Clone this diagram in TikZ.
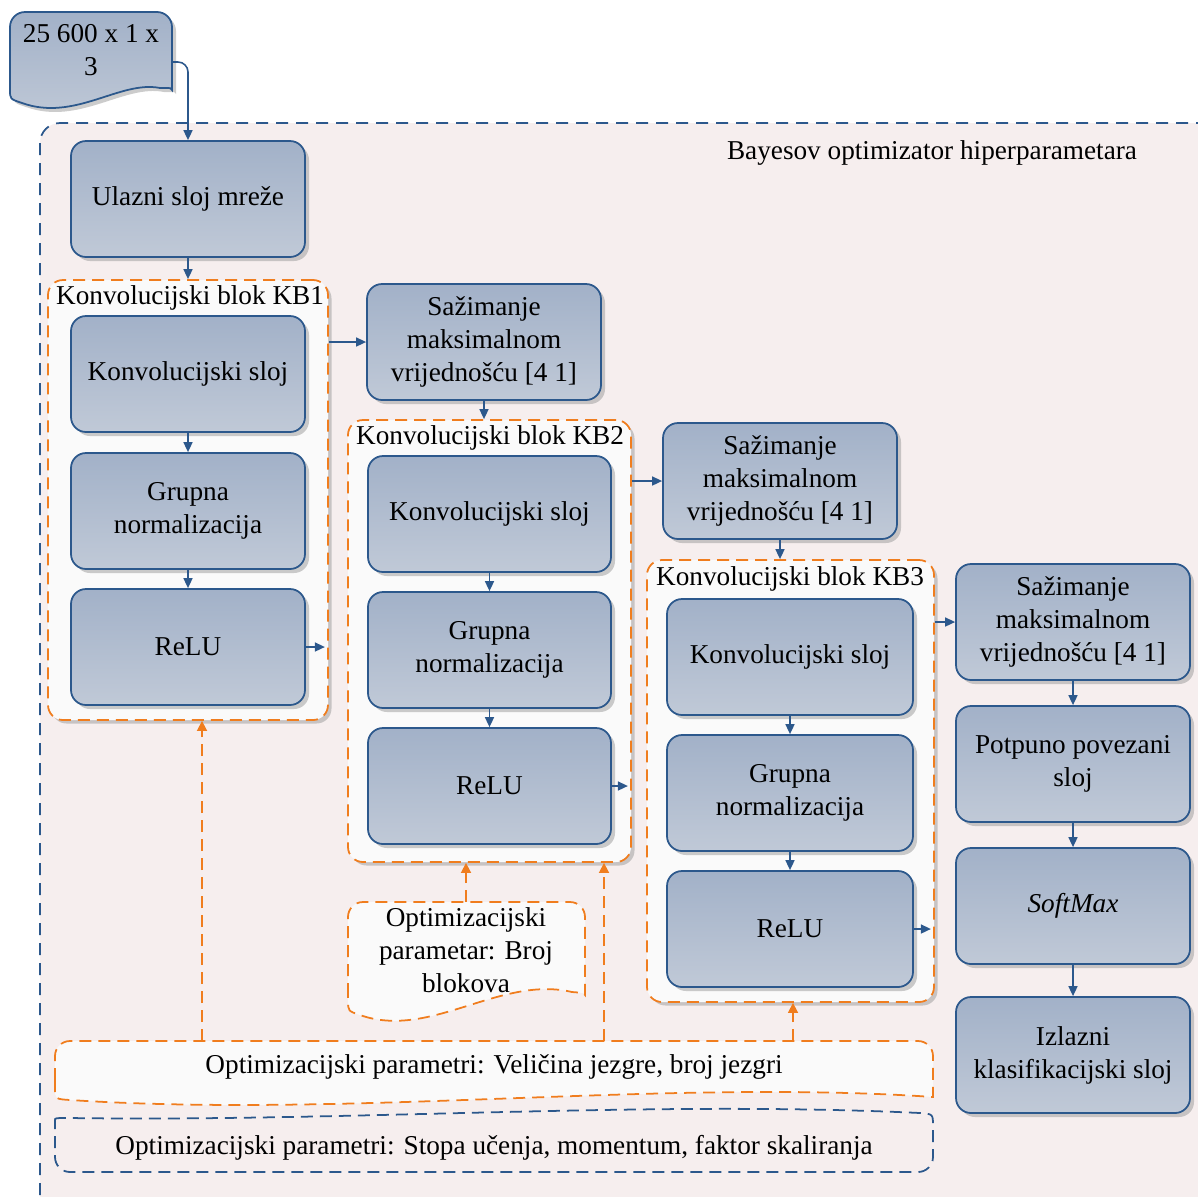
\documentclass[tikz,border=0pt]{standalone}
\usepackage{fontspec}
\setmainfont{Liberation Serif}
\usetikzlibrary{arrows.meta, positioning, shadows, calc}
\definecolor{plava}{RGB}{44,88,140}
\definecolor{narancasta}{RGB}{240,125,30}
\definecolor{slojgore}{RGB}{162,177,200}
\definecolor{slojdolje}{RGB}{192,201,215}
\definecolor{pozadina}{RGB}{246,238,238}
\definecolor{blokbg}{RGB}{250,250,250}
\tikzset{
    sloj/.style    = {draw=plava, line width=1pt, rounded corners=3mm,
                      top color=slojgore, bottom color=slojdolje,
                      drop shadow={shadow xshift=0.8mm, shadow yshift=-0.8mm, fill=black!40, opacity=0.5},
                      minimum width=46.8mm, minimum height=23.2mm, align=center, inner sep=2pt},
    blok/.style    = {draw=narancasta, line width=1pt, dash pattern=on 2.4mm off 1.4mm,
                      rounded corners=3mm, fill=blokbg,
                      drop shadow={shadow xshift=0.7mm, shadow yshift=-0.7mm, fill=black!40, opacity=0.5}},
    natpis/.style  = {anchor=west, inner sep=1pt},
    strel/.style   = {-{Triangle[length=2mm, width=1.8mm]}, plava, line width=0.9pt},
    optstrel/.style= {-{Triangle[length=2mm, width=2mm]}, narancasta, line width=0.9pt,
                      dash pattern=on 2.4mm off 1.4mm},
    okvir/.style   = {draw=plava, line width=1pt, dash pattern=on 2.4mm off 1.6mm,
                      rounded corners=4mm, fill=pozadina},
    ulazdok/.style = {draw=plava, line width=1pt, top color=slojgore, bottom color=slojdolje,
                      drop shadow={shadow xshift=0.8mm, shadow yshift=-0.8mm, fill=black!40, opacity=0.5}},
    optdok/.style  = {draw=narancasta, line width=1pt, dash pattern=on 2.4mm off 1.4mm, fill=blokbg},
    bayesdok/.style= {draw=plava, line width=1pt, dash pattern=on 2.4mm off 1.4mm},
}

\begin{document}
\begin{tikzpicture}[x=0.2mm, y=-0.2mm, font=\fontsize{15.5}{18.8}\selectfont]
    \useasboundingbox (0,0) rectangle (1198,1196);
    % vanjski okvir
    \draw[okvir] (40,123) rectangle (1240,1240);
    \node[anchor=center] (bayes) at (932,153) {Bayesov optimizator hiperparametara};

    % ulazni podaci
    \draw[ulazdok] (10,85) [rounded corners=3mm] -- (10,12) -- (172,12) -- (172,75) [sharp corners]
        .. controls (172,88) .. (160,88) .. controls (120,80) and (75,122) .. (22,103)
        .. controls (10,99) .. (10,90) -- cycle;
    \node[align=center] (dim) at (91,50) {25 600 x 1 x\\3};
    \coordinate (dimizl) at (172,62);

    % konvolucijski blokovi
    \node[blok, minimum width=56mm, minimum height=88mm] (kb1) at (188,500) {};
    \node[blok, minimum width=56.6mm, minimum height=88.4mm] (kb2) at (489.5,641) {};
    \node[blok, minimum width=57.4mm, minimum height=88.4mm] (kb3) at (790.5,781) {};
    \node[natpis] (kb1n) at (54,298) {Konvolucijski blok KB1};
    \node[natpis] (kb2n) at (354,438) {Konvolucijski blok KB2};
    \node[natpis] (kb3n) at (654,579) {Konvolucijski blok KB3};

    % slojevi
    \node[sloj] (ulazni) at (188,199) {Ulazni sloj mreže};
    \node[sloj] (konv1)  at (188,374) {Konvolucijski sloj};
    \node[sloj] (grupa1) at (188,511) {Grupna\\normalizacija};
    \node[sloj] (relu1)  at (188,647) {ReLU};
    \node[sloj] (saz1)   at (484,342) {Sažimanje\\maksimalnom\\vrijednošću [4 1]};
    \node[sloj, minimum width=48.6mm] (konv2)  at (489.5,514) {Konvolucijski sloj};
    \node[sloj, minimum width=48.6mm] (grupa2) at (489.5,650) {Grupna\\normalizacija};
    \node[sloj, minimum width=48.6mm] (relu2)  at (489.5,786) {ReLU};
    \node[sloj]   (saz2)   at (780,481) {Sažimanje\\maksimalnom\\vrijednošću [4 1]};
    \node[sloj, minimum width=49.2mm] (konv3)  at (790,657) {Konvolucijski sloj};
    \node[sloj, minimum width=49.2mm] (grupa3) at (790,793) {Grupna\\normalizacija};
    \node[sloj, minimum width=49.2mm] (relu3)  at (790,929) {ReLU};
    \node[sloj]   (saz3)    at (1073,622) {Sažimanje\\maksimalnom\\vrijednošću [4 1]};
    \node[sloj]   (potpuno) at (1073,764) {Potpuno povezani\\sloj};
    \node[sloj]   (softmax) at (1073,906) {\textit{SoftMax}};
    \node[sloj]   (izlaz)   at (1073,1055) {Izlazni\\klasifikacijski sloj};

    % optimizacijski parametri
    \draw[optdok] (348,995) [rounded corners=3mm] -- (348,902) -- (585,902) -- (585,980) [sharp corners]
        .. controls (585,993) .. (572,992) .. controls (500,975) and (430,1040) .. (360,1015)
        .. controls (348,1011) .. (348,1000) -- cycle;
    \node[align=center] (brojblok) at (466,950) {Optimizacijski\\parametar: Broj\\blokova};
    \draw[optdok] (55,1080) [rounded corners=3mm] -- (55,1041) -- (933,1041) -- (933,1082) [sharp corners]
        .. controls (933,1097) .. (918,1096) .. controls (650,1080) and (350,1118) .. (70,1100)
        .. controls (55,1099) .. (55,1088) -- cycle;
    \node (jezgre) at (494,1067) {Optimizacijski parametri: Veličina jezgre, broj jezgri};
    \draw[bayesdok] (55,1135) .. controls (55,1118) .. (70,1118) .. controls (350,1122) and (650,1100) .. (920,1113)
        .. controls (933,1114) .. (933,1126) [rounded corners=3mm] -- (933,1172) -- (55,1172) -- cycle;
    \node (stopa) at (494,1148) {Optimizacijski parametri: Stopa učenja, momentum, faktor skaliranja};

    % veze
    \draw[strel, rounded corners=2mm] (dimizl) -| (ulazni.north);
    \draw[strel] (ulazni.south) -- (kb1.north);
    \draw[strel] (konv1) -- (grupa1);
    \draw[strel] (grupa1) -- (relu1);
    \draw[strel, shorten >=0.8mm] (relu1.east) -- (relu1.east -| kb1.east);
    \draw[strel] (kb1.east |- saz1.west) -- (saz1.west);
    \draw[strel] (saz1.south) -- (saz1.south |- kb2.north);
    \draw[strel] (konv2) -- (grupa2);
    \draw[strel] (grupa2) -- (relu2);
    \draw[strel, shorten >=0.8mm] (relu2.east) -- (relu2.east -| kb2.east);
    \draw[strel] (kb2.east |- saz2.west) -- (saz2.west);
    \draw[strel] (saz2.south) -- (saz2.south |- kb3.north);
    \draw[strel] (konv3) -- (grupa3);
    \draw[strel] (grupa3) -- (relu3);
    \draw[strel, shorten >=0.8mm] (relu3.east) -- (relu3.east -| kb3.east);
    \draw[strel] (kb3.east |- saz3.west) -- (saz3.west);
    \draw[strel] (saz3) -- (potpuno);
    \draw[strel] (potpuno) -- (softmax);
    \draw[strel] (softmax) -- (izlaz);

    \coordinate (bb) at (466,902);
    \coordinate (j1) at (202,1041);
    \coordinate (j2) at (604,1041);
    \coordinate (j3) at (793,1041);
    \draw[optstrel] (bb) -- (bb |- kb2.south);
    \draw[optstrel] (j1) -- (j1 |- kb1.south);
    \draw[optstrel] (j2) -- (j2 |- kb2.south);
    \draw[optstrel] (j3) -- (j3 |- kb3.south);
\end{tikzpicture}
\end{document}
